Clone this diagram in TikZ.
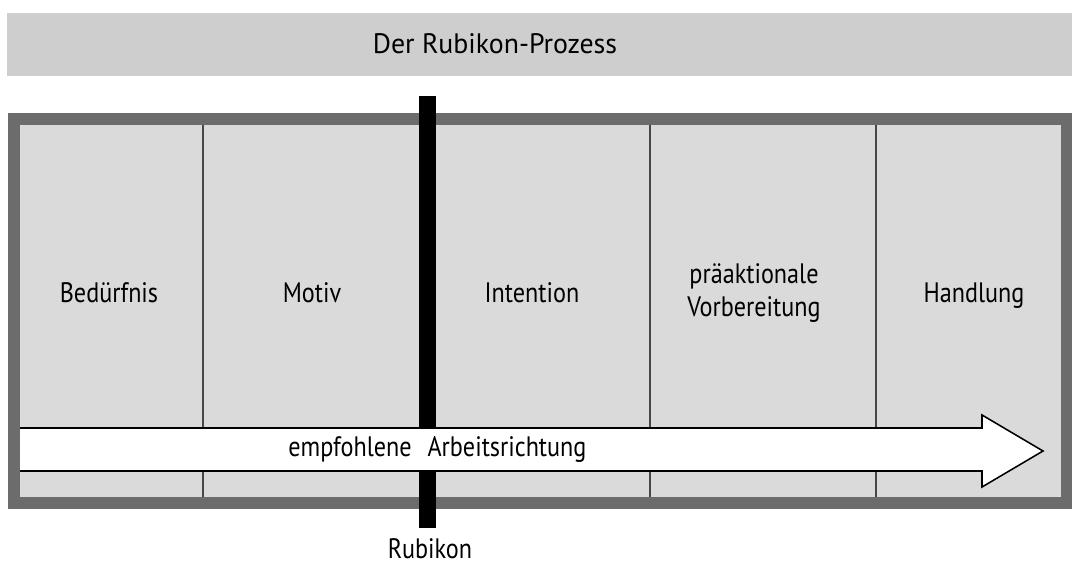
\documentclass[tikz,border=0pt]{standalone}
\usepackage{fontspec}
\setmainfont{PT Sans}[FakeStretch=0.86]
\newfontfamily\titlefont{PT Sans}[FakeStretch=0.99]
\usepackage{tikz}
\usetikzlibrary{positioning}
\usetikzlibrary{calc}
\definecolor{band}{RGB}{206,206,206}
\definecolor{inside}{RGB}{218,218,218}
\definecolor{frame}{RGB}{108,108,108}
\definecolor{divider}{RGB}{70,70,70}

\begin{document}
\begin{tikzpicture}[x=0.025cm, y=-0.025cm, node distance=0.1cm,
  lbl/.style={inner sep=0pt, font=\fontsize{20}{24}\selectfont, text=black},
  divline/.style={divider, line width=1.6pt},
  bar/.style={fill=black, draw=none}]
\useasboundingbox (0,0) rectangle (1072,565);

% title band
\fill [band] (7,13) rectangle (1072,76);
\node [lbl, anchor=base, font=\titlefont\fontsize{20}{24}\selectfont] (title) at (495,54) {Der Rubikon-Prozess};

% the box with its dark frame
\fill [frame] (8,113) rectangle (1072,509);
\fill [inside] (20,125) rectangle (1061,497);

% column dividers
\foreach \xx in {203,427,650,876}
  \draw [divline] (\xx,125) -- (\xx,497);

% the Rubikon
\fill [bar] (419,96) rectangle (436,528);
\coordinate (barfoot) at (427.5,528);
\node [lbl, anchor=base] (rubikon) at (430,558) {Rubikon};

% arrow: recommended direction of work
\coordinate (s1) at (20,428);
\coordinate (s2) at (982,428);
\coordinate (h1) at (982,415);
\coordinate (tip) at (1043,451);
\coordinate (h2) at (982,487);
\coordinate (s3) at (982,471);
\coordinate (s4) at (20,471);
\fill [white] (s1) -- (s2) -- (h1) -- (tip) -- (h2) -- (s3) -- (s4) -- cycle;
\draw [line width=1.1pt, line join=miter] (s1) -- (s2) -- (h1) -- (tip) -- (h2) -- (s3) -- (s4);

\node [lbl, anchor=base] (empf) at (350,456) {empfohlene};
\node [lbl, anchor=base] (arbeit) at (507,456) {Arbeitsrichtung};

% phases
\node [lbl, anchor=base] (beduerfnis) at (109,302) {Bedürfnis};
\node [lbl, anchor=base] (motiv) at (312,302) {Motiv};
\node [lbl, anchor=base] (intention) at (532,302) {Intention};
\node [lbl, align=center] (vorber) at (754,293) {präaktionale\\Vorbereitung};
\node [lbl, anchor=base] (handlung) at (974,302) {Handlung};

\end{tikzpicture}
\end{document}
